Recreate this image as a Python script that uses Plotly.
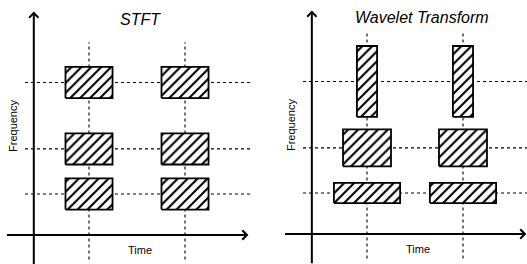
import plotly.graph_objects as go

# ---- data (abstract units) ----
time_centers = [1.0, 2.0]
freq_levels = [1.0, 2.1, 3.72]

stft_widths = [0.49, 0.49, 0.49]
stft_heights = [0.76, 0.76, 0.76]

wavelet_widths = [0.69, 0.50, 0.21]
wavelet_heights = [0.49, 0.90, 1.73]

panel_titles = ["STFT", "Wavelet Transform"]
x_label = "Time"
y_label = "Frequency"

axis_origin_t = 0.425

FONT = "Liberation Sans, Arial, sans-serif"

fig = go.Figure()

panels = [
    dict(xa="x", ya="y", widths=stft_widths, heights=stft_heights,
         vtop=4.7, hx0=0.333, hx1=2.70, tx=1.54, ty=5.25),
    dict(xa="x2", ya="y2", widths=wavelet_widths, heights=wavelet_heights,
         vtop=4.93, hx0=0.333, hx1=2.70, tx=1.57, ty=5.28),
]

for p, title in zip(panels, panel_titles):
    xa, ya = p["xa"], p["ya"]
    # dashed guide lines
    for t in time_centers:
        fig.add_trace(go.Scatter(x=[t, t], y=[-0.6, p["vtop"]], mode="lines",
                                 line=dict(color="black", width=1.1, dash="3px,3px"),
                                 xaxis=xa, yaxis=ya, showlegend=False, hoverinfo="skip"))
    for f in freq_levels:
        fig.add_trace(go.Scatter(x=[p["hx0"], p["hx1"]], y=[f, f], mode="lines",
                                 line=dict(color="black", width=1.1, dash="3px,3px"),
                                 xaxis=xa, yaxis=ya, showlegend=False, hoverinfo="skip"))
    # hatched tiles
    for t in time_centers:
        for f, w, h in zip(freq_levels, p["widths"], p["heights"]):
            x0, x1 = t - w / 2, t + w / 2
            y0, y1 = f - h / 2, f + h / 2
            fig.add_trace(go.Scatter(
                x=[x0, x1, x1, x0, x0], y=[y0, y0, y1, y1, y0],
                mode="lines", fill="toself",
                fillcolor="white",
                fillpattern=dict(shape="/", size=7, solidity=0.3,
                                 fgcolor="black", bgcolor="white", fgopacity=1),
                line=dict(color="black", width=1.8),
                xaxis=xa, yaxis=ya, showlegend=False, hoverinfo="skip"))

annotations = []
for i, (p, title) in enumerate(zip(panels, panel_titles)):
    xa, ya = p["xa"], p["ya"]
    # axes with arrows
    annotations.append(dict(x=axis_origin_t, y=5.45, ax=axis_origin_t, ay=-0.75,
                            xref=xa, yref=ya, axref=xa, ayref=ya,
                            showarrow=True, arrowhead=4, arrowsize=0.9, arrowwidth=2,
                            arrowcolor="black", text=""))
    annotations.append(dict(x=2.66, y=0, ax=0.13, ay=0,
                            xref=xa, yref=ya, axref=xa, ayref=ya,
                            showarrow=True, arrowhead=4, arrowsize=0.9, arrowwidth=2,
                            arrowcolor="black", text=""))
    annotations.append(dict(x=p["tx"], y=p["ty"], xref=xa, yref=ya, showarrow=False,
                            text="<i>" + title + "</i>",
                            font=dict(family=FONT, size=16, color="black")))
    annotations.append(dict(x=1.53, y=-0.37, xref=xa, yref=ya, showarrow=False,
                            text=x_label, font=dict(family=FONT, size=11, color="black")))
    annotations.append(dict(x=0.215, y=2.65, xref=xa, yref=ya, showarrow=False,
                            text=y_label, textangle=-90,
                            font=dict(family=FONT, size=11, color="black")))

hidden = dict(visible=False, showgrid=False, zeroline=False, fixedrange=True)
split = 260 / 527
fig.update_layout(
    width=527, height=264,
    margin=dict(l=0, r=0, t=0, b=0),
    paper_bgcolor="white", plot_bgcolor="white",
    xaxis=dict(domain=[0, split], range=[0.073, 2.781], **hidden),
    yaxis=dict(domain=[0, 1], range=[-0.707, 5.732], **hidden),
    xaxis2=dict(domain=[split, 1], range=[-0.115, 2.667], **hidden),
    yaxis2=dict(domain=[0, 1], range=[-0.732, 5.707], anchor="x2", **hidden),
    annotations=annotations,
    showlegend=False,
    hovermode=False,
)

fig.write_html("out.html",
               config={"displayModeBar": False, "staticPlot": True},
               post_script="document.body.style.margin='0';document.body.style.overflow='hidden';")
